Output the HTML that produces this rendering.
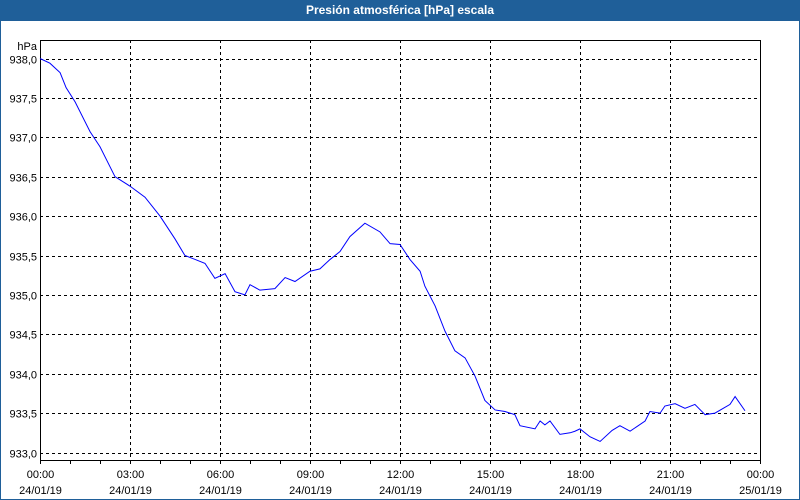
<!DOCTYPE html>
<html><head><meta charset="utf-8"><style>
body{margin:0;width:800px;height:500px;overflow:hidden;background:#fff;font-family:"Liberation Sans",sans-serif}
#wrap{position:absolute;left:0;top:0;width:798px;height:498px;border:1px solid #1f5f99;background:#fff}
#title{position:absolute;left:0;top:0;width:800px;height:21px;background:#1f5f99;color:#fff;font-weight:bold;font-size:12px;line-height:21px;text-align:center}
</style></head><body>
<div id="wrap"></div>
<div id="title">Presión atmosférica [hPa] escala</div>
<svg id="chart" width="800" height="500" style="position:absolute;left:0;top:0"></svg>
<script>
const hours=[0,0.33,0.67,0.87,1.17,1.67,2,2.5,3,3.5,4,4.5,4.83,5.17,5.5,5.83,6.17,6.5,6.83,7,7.33,7.83,8.17,8.5,9,9.33,9.67,10,10.33,10.83,11.33,11.67,12,12.33,12.67,12.83,13.17,13.5,13.83,14.17,14.5,14.83,15.17,15.5,15.83,16,16.5,16.67,16.83,17,17.33,17.67,17.83,18,18.33,18.67,19.07,19.33,19.67,20.17,20.33,20.67,20.83,21.17,21.5,21.83,22.17,22.5,23,23.17,23.5];
const pressure=[938.0,937.94,937.82,937.63,937.45,937.07,936.88,936.5,936.38,936.24,936.0,935.71,935.5,935.45,935.4,935.21,935.27,935.04,935.0,935.13,935.06,935.08,935.22,935.17,935.3,935.33,935.45,935.55,935.74,935.91,935.8,935.65,935.64,935.45,935.3,935.11,934.86,934.54,934.29,934.2,933.97,933.66,933.54,933.52,933.48,933.34,933.3,933.4,933.35,933.4,933.23,933.25,933.27,933.3,933.2,933.14,933.28,933.34,933.27,933.4,933.52,933.5,933.59,933.62,933.56,933.61,933.48,933.5,933.61,933.71,933.53];
const yTicks=["933,0","933,5","934,0","934,5","935,0","935,5","936,0","936,5","937,0","937,5","938,0"];
const xTickTimes=["00:00","03:00","06:00","09:00","12:00","15:00","18:00","21:00","00:00"];
const xTickDates=["24/01/19","24/01/19","24/01/19","24/01/19","24/01/19","24/01/19","24/01/19","24/01/19","25/01/19"];
const L=40,R=760,T=40,B=460;
const xs=h=>L+h*(R-L)/24;
const ys=v=>452.5-(v-933)*(452.5-58.5)/5;
const svg=document.getElementById('chart');
const NS='http://www.w3.org/2000/svg';
function mk(tag,attrs){const e=document.createElementNS(NS,tag);for(const k in attrs)e.setAttribute(k,attrs[k]);svg.appendChild(e);return e;}
mk('rect',{x:L,y:T,width:R-L,height:B-T,fill:'#fff'});
yTicks.forEach((t,i)=>{const v=933+i*0.5,y=Math.round(ys(v))+0.5;
 const g=mk('line',{x1:L,x2:R,y1:y,y2:y,stroke:'#000','stroke-dasharray':'3,3'});
 
 const tx=mk('text',{x:37,y:y+4,'text-anchor':'end','font-size':'11',fill:'#000'});tx.textContent=t;
 
});
xTickTimes.forEach((t,i)=>{const x=Math.round(xs(i*3))+0.5;
 if(i>0&&i<8){const g=mk('line',{x1:x,x2:x,y1:T,y2:B,stroke:'#000','stroke-dasharray':'3,3'});
 }
 const a=mk('text',{x:x,y:478,'text-anchor':'middle','font-size':'11'});a.textContent=t;
 
 const b=mk('text',{x:x,y:494,'text-anchor':'middle','font-size':'11'});b.textContent=xTickDates[i];
 
});
for(let h=0;h<=24;h++){const x=Math.round(xs(h))+0.5;mk('line',{x1:x,x2:x,y1:B,y2:B+4,stroke:'#000'});}
mk('line',{x1:L+0.5,x2:L+0.5,y1:T,y2:B,stroke:'#000'});
mk('line',{x1:L,x2:R+0.5,y1:B+0.5,y2:B+0.5,stroke:'#000'});
mk('line',{x1:R+0.5,x2:R+0.5,y1:T,y2:B,stroke:'#000'});
mk('line',{x1:L,x2:R,y1:T+0.5,y2:T+0.5,stroke:'#000'});
const u=mk('text',{x:37,y:50,'text-anchor':'end','font-size':'11'});u.textContent='hPa';

const p=mk('polyline',{points:hours.map((h,i)=>xs(h)+','+ys(pressure[i])).join(' '),fill:'none',stroke:'#0000ff','stroke-width':'1'});

</script>
</body></html>
